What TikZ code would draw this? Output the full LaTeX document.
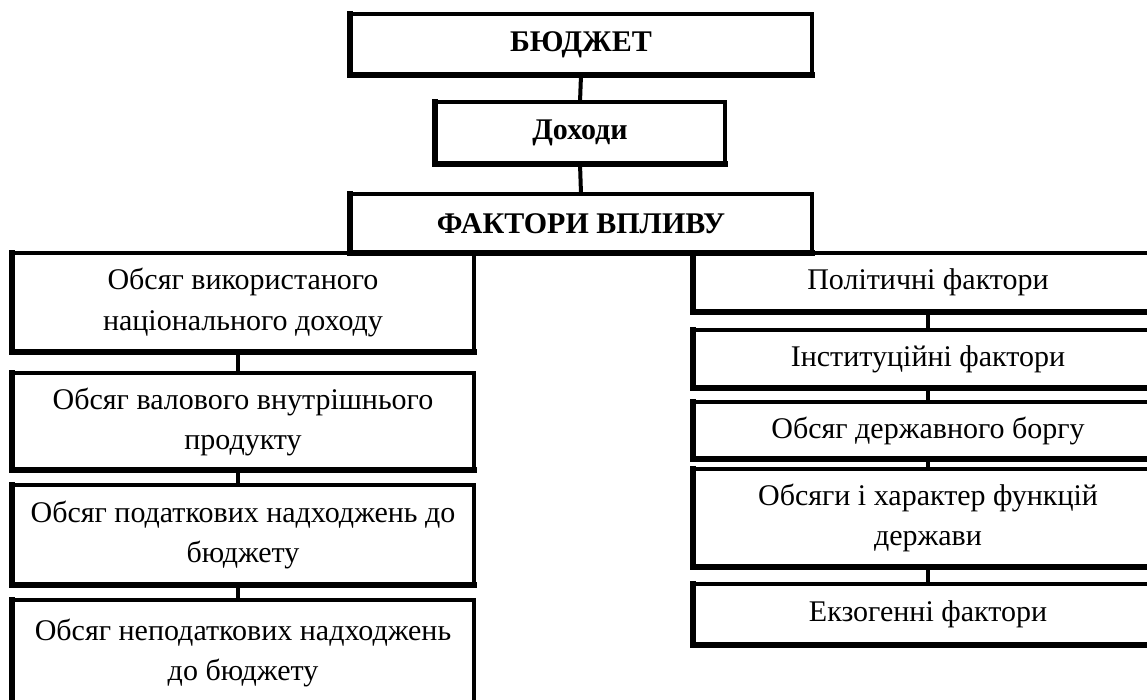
\documentclass[tikz,border=0pt]{standalone}
\usepackage{fontspec}
\setmainfont{Liberation Serif}
\begin{document}
\begin{tikzpicture}[x=1pt,y=-1pt,
  box/.style={draw=black, line width=4pt, fill=white, rectangle, outer sep=0pt, inner sep=0pt, align=center,
    font=\fontsize{30}{40}\selectfont, text=black},
  hbox/.style={box, font=\fontsize{30}{40}\selectfont\bfseries},
  link/.style={line width=4pt}]
\useasboundingbox (0,0) rectangle (1147,700);
% top chain
\node[hbox, minimum width=462pt, minimum height=61pt] (budget) at (581,44.5) {БЮДЖЕТ};
\node[hbox, minimum width=290pt, minimum height=62pt] (income) at (580,133) {Доходи};
\node[hbox, minimum width=462pt, minimum height=59pt] (factors) at (581,223.5) {ФАКТОРИ ВПЛИВУ};
% left column
\node[box, minimum width=462pt, minimum height=99pt] (l1) at (243,302.5) {Обсяг використаного\\національного доходу};
\node[box, minimum width=462pt, minimum height=97pt] (l2) at (243,421.5) {Обсяг валового внутрішнього\\продукту};
\node[box, minimum width=462pt, minimum height=100pt] (l3) at (243,535) {Обсяг податкових надходжень до\\бюджету};
\node[box, minimum width=462pt, minimum height=105pt] (l4) at (243,652.5) {Обсяг неподаткових надходжень\\до бюджету};
% right column
\node[box, minimum width=470pt, minimum height=59pt] (r1) at (928,282.5) {Політичні фактори};
\node[box, minimum width=470pt, minimum height=58pt] (r2) at (928,359) {Інституційні фактори};
\node[box, minimum width=470pt, minimum height=57pt] (r3) at (928,430.5) {Обсяг державного боргу};
\node[box, minimum width=470pt, minimum height=98pt] (r4) at (928,518) {Обсяги і характер функцій\\держави};
\node[box, minimum width=470pt, minimum height=61pt] (r5) at (928,614.5) {Екзогенні фактори};
% heavier left and bottom edges
\foreach \n in {budget,income,factors,l1,l2,l3,l4,r1,r2,r3,r4,r5}
  \draw[line width=6pt, line cap=rect] (\n.north west) -- (\n.south west) -- (\n.south east);
% connectors
\draw[link] (budget.south) -- (income.north);
\draw[link] (income.south) -- (factors.north);
\draw[link] (l1.south -| 238,0) -- (l2.north -| 238,0);
\draw[link] (l2.south -| 238,0) -- (l3.north -| 238,0);
\draw[link] (l3.south -| 238,0) -- (l4.north -| 238,0);
\draw[link] (r1.south) -- (r2.north);
\draw[link] (r2.south) -- (r3.north);
\draw[link] (r3.south) -- (r4.north);
\draw[link] (r4.south) -- (r5.north);
\end{tikzpicture}
\end{document}
